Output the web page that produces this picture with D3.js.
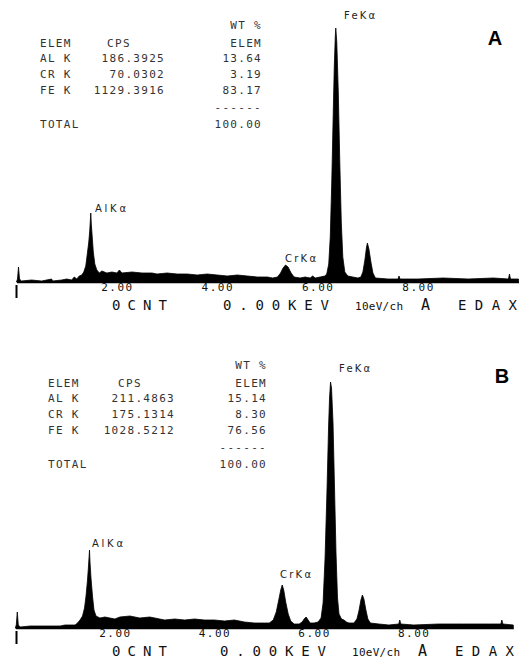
<!DOCTYPE html>
<html>
<head>
<meta charset="utf-8">
<script src="https://cdn.jsdelivr.net/npm/d3@7"></script>
<style>
  body { margin: 0; background: #fff; }
  text { font-variant-numeric: slashed-zero; font-feature-settings: "zero" 1; }
</style>
</head>
<body>
<div id="chart"></div>
<script>
// table contents
const elemNames = ["AL K", "CR K", "FE K"];
const cpsA = ["186.3925", "70.0302", "1129.3916"];
const wtA = ["13.64", "3.19", "83.17"];
const cpsB = ["211.4863", "175.1314", "1028.5212"];
const wtB = ["15.14", "8.30", "76.56"];
const totalWt = "100.00";

// axis ticks (keV)
const tickValues = [2, 4, 6, 8];

// peak labels
const peakNames = ["AlKα", "CrKα", "FeKα"];

// spectra: [keV, counts]
const spectrumA = [
  [0.00, 0], [0.02, 3], [0.04, 15], [0.06, 3], [0.10, 1], [0.30, 2], [0.50, 1], [0.70, 3], [0.72, 1],
  [0.90, 2], [1.00, 3], [1.10, 2], [1.15, 5], [1.20, 3], [1.25, 6], [1.30, 7], [1.34, 10], [1.38, 16],
  [1.41, 28], [1.44, 40], [1.46, 52], [1.48, 69], [1.49, 58], [1.51, 44], [1.53, 30], [1.56, 18],
  [1.60, 12], [1.65, 9], [1.70, 11], [1.80, 9], [1.90, 10], [2.00, 9], [2.05, 12], [2.10, 9], [2.30, 10],
  [2.50, 9], [2.70, 9], [2.80, 8], [3.00, 9], [3.20, 8], [3.40, 8], [3.60, 7], [3.80, 8], [4.00, 7],
  [4.20, 6], [4.40, 7], [4.60, 6], [4.80, 5], [5.00, 5], [5.10, 4], [5.20, 5], [5.26, 9], [5.31, 14],
  [5.36, 17], [5.41, 15], [5.47, 9], [5.53, 5], [5.65, 4], [5.75, 5], [5.85, 4], [5.90, 6], [5.95, 4],
  [6.05, 5], [6.14, 6], [6.18, 8], [6.22, 18], [6.25, 45], [6.28, 100], [6.31, 170], [6.33, 215],
  [6.35, 245], [6.36, 254], [6.38, 240], [6.41, 190], [6.44, 120], [6.47, 60], [6.50, 25], [6.54, 10],
  [6.60, 6], [6.70, 5], [6.80, 4], [6.86, 5], [6.90, 10], [6.94, 22], [6.97, 34], [6.99, 39], [7.02, 33],
  [7.06, 20], [7.10, 9], [7.15, 4], [7.40, 3], [7.60, 3], [7.62, 6], [7.64, 3], [7.80, 3], [8.00, 3],
  [8.50, 4], [9.00, 3], [9.50, 4], [9.80, 3], [9.82, 8], [9.84, 3], [10.00, 3]
];

const spectrumB = [
  [0.00, 0], [0.02, 3], [0.04, 16], [0.06, 3], [0.10, 1], [0.30, 2], [0.60, 2], [0.90, 2], [1.00, 3],
  [1.20, 3], [1.25, 5], [1.30, 8], [1.35, 12], [1.39, 20], [1.42, 32], [1.45, 48], [1.47, 62],
  [1.49, 78], [1.50, 66], [1.52, 50], [1.55, 32], [1.58, 18], [1.62, 12], [1.70, 10], [1.80, 11],
  [1.90, 10], [2.00, 9], [2.10, 11], [2.30, 12], [2.50, 10], [2.70, 11], [2.90, 9], [3.00, 8], [3.20, 9],
  [3.40, 8], [3.60, 9], [3.80, 8], [4.00, 8], [4.20, 7], [4.40, 8], [4.60, 6], [4.80, 5], [5.00, 5],
  [5.10, 5], [5.18, 8], [5.24, 16], [5.29, 28], [5.33, 38], [5.36, 43], [5.39, 38], [5.43, 26],
  [5.48, 14], [5.53, 7], [5.60, 4], [5.70, 4], [5.76, 6], [5.80, 9], [5.84, 11], [5.88, 8], [5.92, 5],
  [6.00, 5], [6.08, 6], [6.14, 10], [6.18, 25], [6.22, 70], [6.26, 140], [6.29, 200], [6.31, 230],
  [6.33, 246], [6.35, 240], [6.38, 205], [6.41, 140], [6.44, 75], [6.47, 30], [6.50, 14], [6.55, 9],
  [6.60, 8], [6.65, 6], [6.70, 5], [6.80, 5], [6.86, 9], [6.90, 17], [6.94, 28], [6.97, 33], [7.00, 29],
  [7.04, 18], [7.08, 9], [7.13, 5], [7.30, 4], [7.50, 3], [7.70, 4], [7.72, 8], [7.74, 4], [8.00, 3],
  [8.50, 4], [9.00, 4], [9.50, 4], [9.75, 4], [9.77, 8], [9.79, 4], [10.00, 3]
];

const width = 524;
const height = 662;
const mono = "'DejaVu Sans Mono', 'Liberation Mono', monospace";

const svg = d3.select("#chart")
    .append("svg")
    .attr("width", width)
    .attr("height", height);

function drawPanel(p) {
  const g = svg.append("g");

  const x = d3.scaleLinear().domain([0, 10]).range(p.xRange);
  const y = d3.scaleLinear().domain([0, 260]).range([p.base, p.base - 260]);

  const area = d3.area()
      .x(d => x(d[0]))
      .y0(y(0))
      .y1(d => y(d[1]));

  g.append("path")
      .datum(p.spectrum)
      .attr("d", area)
      .attr("fill", "#000")
      .attr("stroke", "#000")
      .attr("stroke-width", 0.8);

  // energy axis
  const axis = g.append("g")
      .attr("transform", `translate(0,${p.base})`)
      .call(d3.axisBottom(x).tickValues(tickValues).tickSize(0).tickFormat(d3.format(".2f")));
  axis.select(".domain").attr("stroke", "#000").attr("stroke-width", 1.6);
  axis.selectAll("text")
      .attr("y", 1.5)
      .style("font-family", mono)
      .style("font-size", "11px")
      .style("letter-spacing", "1.5px")
      .style("fill", "#111");

  // left marker
  g.append("rect")
      .attr("x", 15.5).attr("y", p.base + 3)
      .attr("width", 2).attr("height", 13)
      .attr("fill", "#000");

  // bottom status line
  const status = [
    {t: "0CNT", x: 112, w: 55, fs: 14},
    {t: "0.00KEV", x: 223 + p.dx, w: 106, fs: 14},
    {t: "10eV/ch", x: 355 + p.dx, w: 48, fs: 11},
    {t: "A", x: 421 + p.dx, w: 14, fs: 15},
    {t: "EDAX", x: 458 + p.dx, w: 59, fs: 14}
  ];
  g.selectAll(".status")
      .data(status)
      .enter().append("text")
      .attr("x", d => d.x)
      .attr("y", p.base + 28)
      .attr("textLength", d => d.w)
      .attr("lengthAdjust", "spacing")
      .style("font-family", mono)
      .style("font-size", d => d.fs + "px")
      .style("fill", "#111")
      .text(d => d.t);

  // table
  const t = p.table;
  const tbl = g.append("g")
      .style("font-family", mono)
      .style("font-size", "11px")
      .style("letter-spacing", "1.3px")
      .style("fill", "#333");
  tbl.append("text").attr("x", t.wtRight).attr("y", t.top).attr("text-anchor", "end").text("WT %");
  tbl.append("text").attr("x", t.left).attr("y", t.top + 18).text("ELEM");
  tbl.append("text").attr("x", t.cpsMid).attr("y", t.top + 18).attr("text-anchor", "middle").text("CPS");
  tbl.append("text").attr("x", t.wtRight).attr("y", t.top + 18).attr("text-anchor", "end").text("ELEM");
  elemNames.forEach((e, i) => {
    const yy = t.top + 33 + i * 16;
    tbl.append("text").attr("x", t.left).attr("y", yy).text(e);
    tbl.append("text").attr("x", t.cpsRight).attr("y", yy).attr("text-anchor", "end").text(p.cps[i]);
    tbl.append("text").attr("x", t.wtRight).attr("y", yy).attr("text-anchor", "end").text(p.wt[i]);
  });
  tbl.append("text").attr("x", t.wtRight).attr("y", t.top + 82).attr("text-anchor", "end").text("------");
  tbl.append("text").attr("x", t.left).attr("y", t.top + 99).text("TOTAL");
  tbl.append("text").attr("x", t.wtRight).attr("y", t.top + 99).attr("text-anchor", "end").text(totalWt);

  // peak labels
  g.selectAll(".peak")
      .data(p.peaks)
      .enter().append("text")
      .attr("x", d => d.x)
      .attr("y", d => d.y)
      .attr("textLength", 31)
      .attr("lengthAdjust", "spacing")
      .style("font-family", "'DejaVu Sans', sans-serif")
      .style("font-size", "10px")
      .style("fill", "#222")
      .text(d => d.name);

  // panel letter
  g.append("text")
      .attr("x", p.letterX)
      .attr("y", p.letterY)
      .attr("text-anchor", "middle")
      .style("font-family", "'Liberation Sans', Arial, sans-serif")
      .style("font-weight", "bold")
      .style("font-size", "20px")
      .text(p.letter);
}

drawPanel({
  spectrum: spectrumA, xRange: [16.5, 518.5], base: 282, dx: 0,
  cps: cpsA, wt: wtA,
  table: {top: 29, left: 40, cpsMid: 119, cpsRight: 165, wtRight: 262},
  peaks: [
    {name: peakNames[0], x: 95, y: 212},
    {name: peakNames[1], x: 285, y: 262},
    {name: peakNames[2], x: 344, y: 19}
  ],
  letter: "A", letterX: 495, letterY: 45
});

drawPanel({
  spectrum: spectrumB, xRange: [15.3, 513.3], base: 628, dx: -3,
  cps: cpsB, wt: wtB,
  table: {top: 369, left: 48, cpsMid: 130, cpsRight: 175, wtRight: 267},
  peaks: [
    {name: peakNames[0], x: 92, y: 547},
    {name: peakNames[1], x: 280, y: 578},
    {name: peakNames[2], x: 339, y: 372}
  ],
  letter: "B", letterX: 502, letterY: 383
});
</script>
</body>
</html>
